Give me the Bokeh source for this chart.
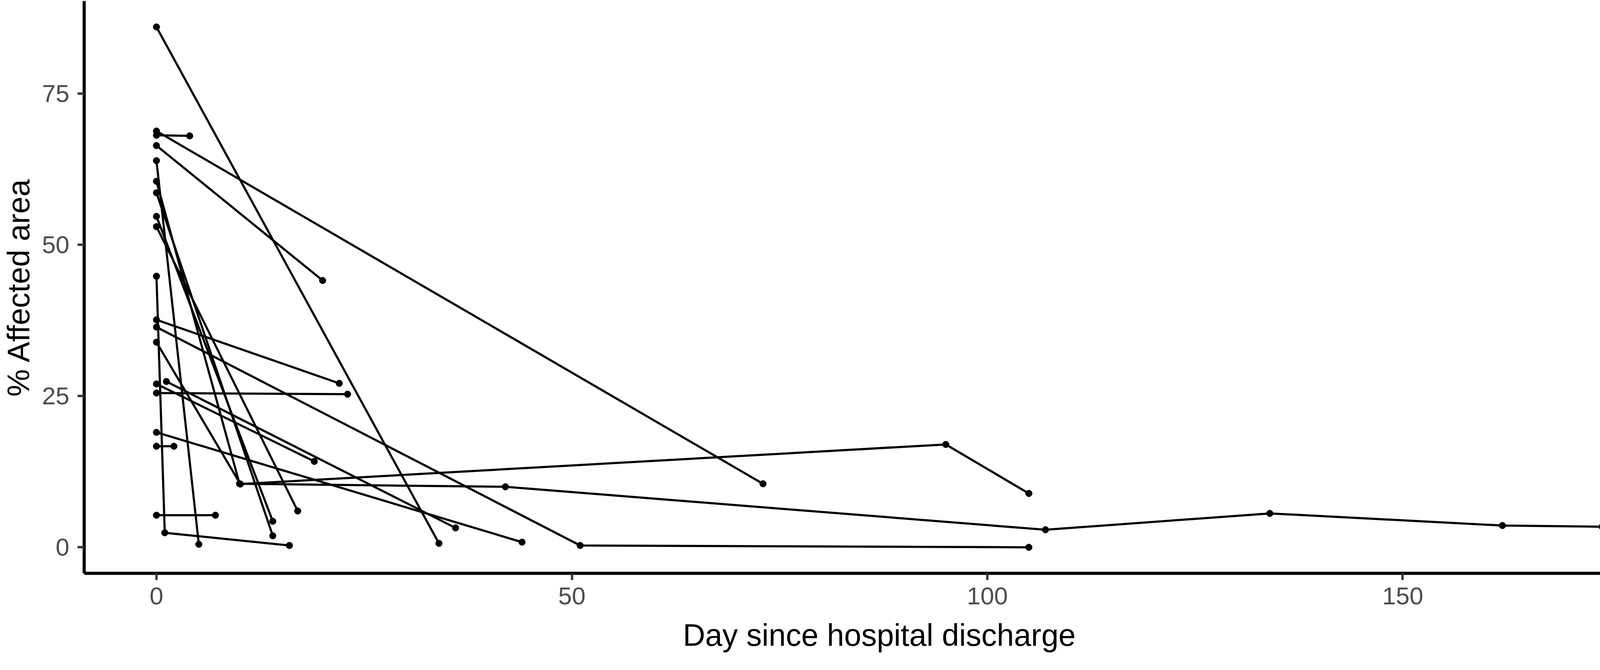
from bokeh.plotting import figure
from bokeh.models import FixedTicker, Range1d
from bokeh.embed import file_html
from bokeh.resources import INLINE

# ---- data ----
patient = [1, 1,
           2, 2,
           3, 3,
           4, 4,
           5, 5,
           6, 6,
           7, 7,
           8, 8,
           9, 9, 9,
           10, 10,
           11, 11, 11,
           12, 12, 12, 12,
           13, 13,
           14, 14,
           15, 15,
           16, 16,
           17, 17,
           18, 18,
           19, 19, 19, 19, 19, 19, 19]
day = [0, 34,
       0, 73,
       0, 4,
       0, 20,
       0, 5.1,
       0, 14,
       0, 14,
       0, 17,
       0, 1, 16,
       0, 22,
       0, 51, 105,
       0, 10.1, 95, 105,
       1.2, 36,
       0, 23,
       0, 19,
       0, 44,
       0, 2.1,
       0, 7.1,
       0, 10, 42, 107, 134, 162, 174]
area = [86.0, 0.65,
        68.8, 10.5,
        68.1, 68.0,
        66.4, 44.1,
        63.9, 0.5,
        58.6, 1.9,
        54.7, 4.3,
        53.0, 6.0,
        44.8, 2.4, 0.3,
        37.6, 27.1,
        36.4, 0.3, 0.0,
        33.9, 10.45, 17.0, 8.9,
        27.4, 3.2,
        25.5, 25.3,
        27.0, 14.2,
        19.0, 0.85,
        16.7, 16.7,
        5.3, 5.3,
        60.5, 10.5, 10.0, 2.9, 5.6, 3.6, 3.4]

x_ticks = [0, 50, 100, 150]
y_ticks = [0, 25, 50, 75]
x_title = "Day since hospital discharge"
y_title = "% Affected area"

# ---- group into per-patient paths ----
xs, ys = [], []
for pid in sorted(set(patient)):
    xs.append([d for d, q in zip(day, patient) if q == pid])
    ys.append([a for a, q in zip(area, patient) if q == pid])

xmin, xmax = min(day), max(day)
ymin, ymax = min(area), max(area)
xpad = (xmax - xmin) * 0.05
ypad = (ymax - ymin) * 0.05

p = figure(width=4301, height=1699, output_backend="svg", toolbar_location=None,
           x_range=Range1d(xmin - xpad, xmax + xpad),
           y_range=Range1d(ymin - ypad, ymax + ypad),
           min_border_left=210, min_border_right=15,
           min_border_top=2, min_border_bottom=232)

p.background_fill_color = "white"
p.border_fill_color = "white"
p.outline_line_color = None
p.xgrid.visible = False
p.ygrid.visible = False

p.multi_line(xs=xs, ys=ys, line_color="black", line_width=5.5)
p.scatter(x=day, y=area, size=17, color="black")

for ax, ticks in ((p.xaxis, x_ticks), (p.yaxis, y_ticks)):
    ax.ticker = FixedTicker(ticks=ticks)
    ax.minor_tick_line_color = None
    ax.axis_line_color = "black"
    ax.axis_line_width = 8
    ax.major_tick_line_color = "#333333"
    ax.major_tick_line_width = 6
    ax.major_tick_out = 17
    ax.major_tick_in = 0
    ax.major_label_text_color = "#4D4D4D"
    ax.major_label_text_font = "Liberation Sans"
    ax.major_label_text_font_size = "63px"
    ax.axis_label_text_font = "Liberation Sans"
    ax.axis_label_text_font_size = "79px"
    ax.axis_label_text_font_style = "normal"
    ax.axis_label_text_color = "black"

p.xaxis.axis_label = x_title
p.yaxis.axis_label = y_title
p.xaxis.major_label_standoff = 19
p.yaxis.major_label_standoff = 21
p.xaxis.axis_label_standoff = 31
p.yaxis.axis_label_standoff = 12

open("out.html", "w").write(file_html(p, INLINE))
